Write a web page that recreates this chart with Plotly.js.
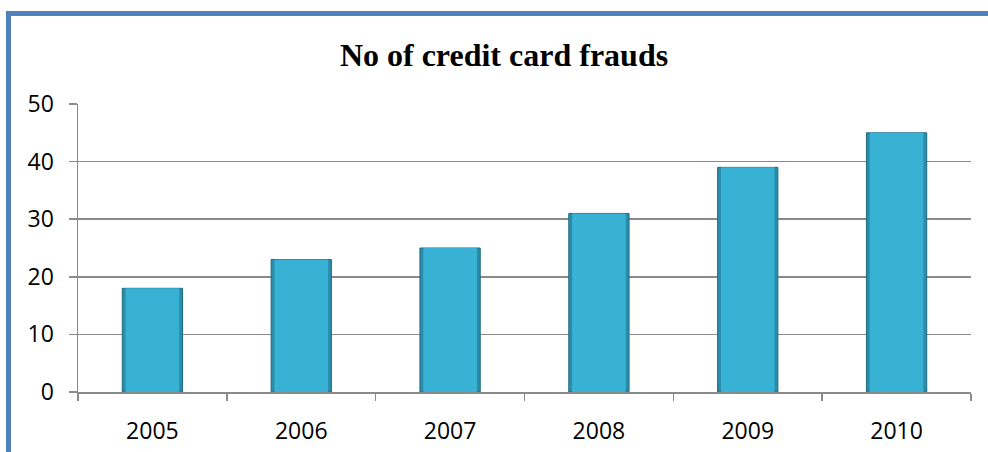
<!DOCTYPE html>
<html>
<head>
<meta charset="utf-8">
<script src="https://cdn.plot.ly/plotly-3.0.1.min.js"></script>
<style>
html,body{margin:0;padding:0;background:#fff;}
#chart{width:988px;height:452px;}
</style>
</head>
<body>
<div id="chart"></div>
<script>
const chartTitle = "No of credit card frauds";
const years = ["2005", "2006", "2007", "2008", "2009", "2010"];
const frauds = [18, 23, 25, 31, 39, 45];
const yTicks = [0, 10, 20, 30, 40, 50];

const W = 988, H = 452;
const m = {l: 78, r: 17, t: 104, b: 60};
const pw = W - m.l - m.r, ph = H - m.t - m.b;
function px(x){ return (x - m.l) / pw; }
function py(y){ return 1 - (y - m.t) / ph; }

const barBase = {
  type: "bar",
  x: years,
  y: frauds,
  width: 0.405,
  marker: {
    color: "#2a8eab",
    line: {color: "#1d6a80", width: 1}
  },
  hoverinfo: "x+y"
};
const barFace = {
  type: "bar",
  x: years,
  y: frauds,
  width: 0.36,
  marker: {
    color: "#38b2d4",
    line: {width: 0}
  },
  hoverinfo: "skip"
};

const gridCol = "#8a8a8a";
const tickFont = {family: "Open Sans, sans-serif", size: 23, color: "#000"};
const layout = {
  width: W, height: H,
  margin: m,
  barmode: "overlay",
  paper_bgcolor: "#ffffff",
  plot_bgcolor: "#ffffff",
  showlegend: false,
  title: {
    text: "<b>" + chartTitle + "</b>",
    font: {family: "Liberation Serif, Times New Roman, serif", size: 32, color: "#000"},
    x: px(504), xanchor: "center",
    y: 1 - 55 / H, yanchor: "middle",
    xref: "paper", yref: "container"
  },
  xaxis: {
    type: "category",
    tickson: "boundaries",
    ticks: "outside",
    ticklen: 7,
    tickcolor: gridCol,
    tickwidth: 1.5,
    showline: true,
    linecolor: gridCol,
    linewidth: 1.5,
    showgrid: false,
    ticklabelstandoff: 18,
    tickfont: tickFont,
    range: [-0.5, 5.5]
  },
  yaxis: {
    range: [0, 50],
    tickvals: yTicks,
    ticks: "outside",
    ticklen: 8,
    tickcolor: gridCol,
    tickwidth: 1.5,
    showline: true,
    linecolor: gridCol,
    linewidth: 1.5,
    showgrid: true,
    gridcolor: gridCol,
    gridwidth: 1.5,
    zeroline: false,
    ticklabelstandoff: 10,
    tickfont: tickFont
  },
  shapes: [
    {type: "line", xref: "paper", yref: "paper",
     x0: px(6), x1: px(995), y0: py(13.5), y1: py(13.5),
     line: {color: "#4f81bd", width: 5}},
    {type: "line", xref: "paper", yref: "paper",
     x0: px(8.5), x1: px(8.5), y0: py(11), y1: py(460),
     line: {color: "#4f81bd", width: 5}}
  ]
};

Plotly.newPlot("chart", [barBase, barFace], layout, {displayModeBar: false, staticPlot: true});
</script>
</body>
</html>
